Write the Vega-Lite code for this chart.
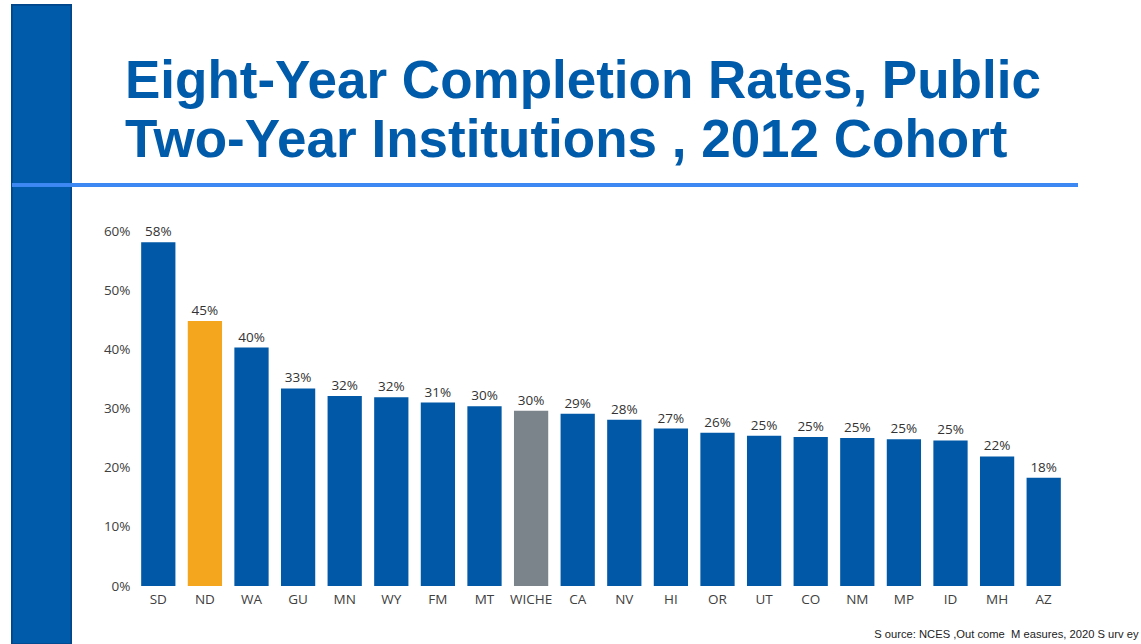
{
  "$schema": "https://vega.github.io/schema/vega-lite/v6.json",
  "width": 932,
  "height": 355,
  "autosize": {"type": "none"},
  "padding": {"left": 135, "top": 231, "right": 74, "bottom": 58},
  "background": "white",
  "config": {"view": {"stroke": null}},
  "title": {
    "text": ["Eight-Year Completion Rates, Public", "Two-Year Institutions , 2012 Cohort"],
    "anchor": "start",
    "frame": "group",
    "font": "Liberation Sans",
    "fontSize": 53,
    "fontWeight": "bold",
    "color": "#005BAA",
    "lineHeight": 59,
    "baseline": "alphabetic",
    "dx": -10,
    "offset": -206
  },
  "data": {
    "values": [
      {"state": "SD", "rate": 0.581, "group": "State"},
      {"state": "ND", "rate": 0.448, "group": "North Dakota"},
      {"state": "WA", "rate": 0.403, "group": "State"},
      {"state": "GU", "rate": 0.334, "group": "State"},
      {"state": "MN", "rate": 0.321, "group": "State"},
      {"state": "WY", "rate": 0.319, "group": "State"},
      {"state": "FM", "rate": 0.310, "group": "State"},
      {"state": "MT", "rate": 0.304, "group": "State"},
      {"state": "WICHE", "rate": 0.296, "group": "WICHE"},
      {"state": "CA", "rate": 0.291, "group": "State"},
      {"state": "NV", "rate": 0.281, "group": "State"},
      {"state": "HI", "rate": 0.266, "group": "State"},
      {"state": "OR", "rate": 0.259, "group": "State"},
      {"state": "UT", "rate": 0.254, "group": "State"},
      {"state": "CO", "rate": 0.252, "group": "State"},
      {"state": "NM", "rate": 0.250, "group": "State"},
      {"state": "MP", "rate": 0.248, "group": "State"},
      {"state": "ID", "rate": 0.246, "group": "State"},
      {"state": "MH", "rate": 0.219, "group": "State"},
      {"state": "AZ", "rate": 0.183, "group": "State"}
    ]
  },
  "layer": [
    {
      "mark": {"type": "rect", "fill": "#005BAA", "stroke": "#00478A", "strokeWidth": 1.5},
      "encoding": {
        "x": {"datum": -123, "type": "quantitative", "scale": {"domain": [0, 932], "nice": false, "zero": false}, "axis": null},
        "x2": {"datum": -64},
        "y": {"datum": -226, "type": "quantitative", "scale": {"domain": [0, 355], "reverse": true, "nice": false, "zero": false}, "axis": null},
        "y2": {"datum": 413}
      }
    },
    {
      "mark": {"type": "rule", "color": "#3D88F2", "strokeWidth": 3},
      "encoding": {
        "x": {"datum": -123, "type": "quantitative", "scale": {"domain": [0, 932], "nice": false, "zero": false}, "axis": null},
        "x2": {"datum": 943},
        "y": {"datum": -46, "type": "quantitative", "scale": {"domain": [0, 355], "reverse": true, "nice": false, "zero": false}, "axis": null}
      }
    },
    {
      "encoding": {
        "x": {
          "field": "state",
          "type": "nominal",
          "sort": null,
          "scale": {"paddingInner": 0.265, "paddingOuter": 0.1325},
          "axis": {
            "title": "S ource: NCES ,Out come \u00a0M easures, 2020 S urv ey",
            "titleFont": "Liberation Sans",
            "titleFontSize": 11.2,
            "titleFontWeight": "normal",
            "titleColor": "#222222",
            "titleAnchor": "end",
            "titleAlign": "right",
            "titleBaseline": "alphabetic",
            "titleX": 1003,
            "titleY": 51,
            "labelAngle": 0,
            "labelFont": "Open Sans",
            "labelFontSize": 13.5,
            "labelColor": "#404040",
            "labelPadding": 6,
            "ticks": false,
            "domain": false
          }
        },
        "y": {
          "field": "rate",
          "type": "quantitative",
          "scale": {"domain": [0, 0.6], "nice": false},
          "axis": {
            "title": null,
            "format": ".0%",
            "values": [0, 0.1, 0.2, 0.3, 0.4, 0.5, 0.6],
            "labelFont": "Open Sans",
            "labelFontSize": 13.5,
            "labelColor": "#404040",
            "labelPadding": 5,
            "ticks": false,
            "domain": false,
            "grid": false
          }
        }
      },
      "layer": [
        {
          "mark": {"type": "bar"},
          "encoding": {
            "color": {
              "field": "group",
              "type": "nominal",
              "scale": {"domain": ["State", "North Dakota", "WICHE"], "range": ["#0058A6", "#F4A71E", "#7B848B"]},
              "legend": null
            }
          }
        },
        {
          "mark": {"type": "text", "font": "Open Sans", "fontSize": 13.5, "color": "#333333", "baseline": "alphabetic", "dy": -6},
          "encoding": {
            "text": {"field": "rate", "type": "quantitative", "format": ".0%"}
          }
        }
      ]
    }
  ],
  "resolve": {"scale": {"x": "independent", "y": "independent"}}
}
